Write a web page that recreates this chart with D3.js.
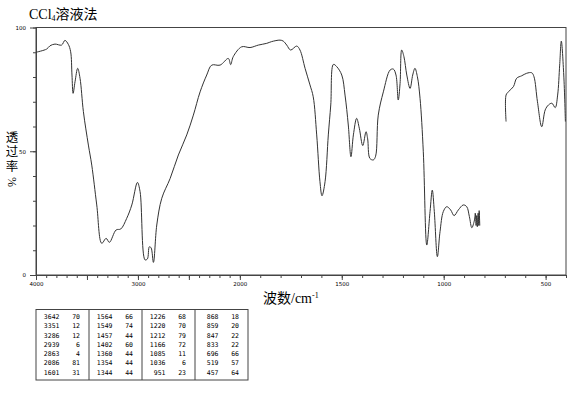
<!DOCTYPE html>
<html>
<head>
<meta charset="utf-8">
<script src="https://cdn.jsdelivr.net/npm/d3@7/dist/d3.min.js"></script>
<style>
	body { margin:0; background:#fff; }
	svg { display:block; }
</style>
</head>
<body>
<svg id="chart" width="570" height="394"></svg>
<script>
	// spectrum trace, [wavenumber, transmittance %]
	var traceHigh = [
		[4000,90],[3895,91.3],[3863,92.6],[3814,93.3],[3749,92.9],[3716,94.8],[3683,93.2],[3660,90.2],
		[3647,80.8],[3636,73.4],[3617,78.1],[3591,83.5],[3568,79.5],[3535,66],[3486,52.5],[3453,44.4],
		[3404,28.3],[3355,12.8],[3312,14.8],[3280,13.2],[3214,18.2],[3168,18.6],[3110,22.9],[3060,28.3],
		[3005,37.4],[2979,33.7],[2930,6.1],[2907,6.5],[2888,11.4],[2871,11],[2848,5.1],[2815,20.2],
		[2766,31],[2684,39],[2603,48.5],[2521,56.6],[2456,64.6],[2390,74],[2325,80.8],[2276,84.8],
		[2194,84.8],[2113,87.5],[2090,85],[2065,88.2],[1991,92.2],[1950,91.9],[1909,92.9],[1868,93.6],
		[1844,94.3],[1803,94.9],[1787,94.5],[1770,92.9],[1751,90.9],[1721,92.5],[1705,90.9],[1680,83.5],
		[1656,76.8],[1640,72],[1623,56.6],[1607,37.7],[1597,32],[1582,37.7],[1566,56.6],[1554,68.7],
		[1541,85.1],[1525,84.2],[1500,80.8],[1484,72.7],[1468,60.6],[1455,47.8],[1443,56.6],[1427,63.3],
		[1414,59.3],[1397,52.3],[1381,57.9],[1373,55],[1362,47.1],[1345,46.5],[1334,48],[1321,64.6],
		[1296,74],[1263,82.8],[1247,83.2],[1234,80.8],[1223,70.7],[1214,77.4],[1206,90.9],[1195,88.2],
		[1181,80.8],[1165,75.4],[1152,80.8],[1141,83.5],[1129,80.1],[1116,71.4],[1100,49.8],[1083,12.1],
		[1067,25.6],[1056,34.3],[1046,25.6],[1031,7.4],[1018,17.5],[1002,25.6],[985,27.6],[966,26.3],
		[949,24],[928,26.3],[904,28.3],[887,27.6],[874,23.6],[862,19.1],[849,22.2],[845,25],[841,20],
		[838,24],[835,19.5],[831,25],[828,20],[826,26],[823,20]
	];
	var traceLow = [
		[694,62],[694,72.7],[683,74],[658,76.1],[642,79.5],[617,80.5],[593,81.5],[568,81.7],[557,80.1],
		[540,70],[519,59.9],[502,66.7],[486,68.7],[469,69.4],[453,67.6],[441,72.7],[431,84.8],[423,94.5],
		[411,80.8],[403,62]
	];

	// peak table
	var peakWn = [3642,3351,3286,2939,2863,2086,1601, 1564,1549,1457,1402,1360,1354,1344,
		1226,1220,1212,1166,1085,1036,951, 868,859,847,833,696,519,457];
	var peakT = [70,12,12,6,4,81,31, 66,74,44,60,44,44,44, 68,70,79,72,11,6,23, 18,20,22,22,66,57,64];

	var xLabels = [4000,3000,2000,1500,1000,500];
	var yLabels = [0,50,100];

	var pLeft = 36, pRight = 566, pTop = 27.5, pBottom = 275;
	var svg = d3.select("#chart");

	// 4000-2000 at half scale, like the instrument chart
	var x = d3.scaleLinear().domain([4000,2000,400])
		.range([pLeft, pLeft+(pRight-pLeft)*1000/2600, pRight]);
	var y = d3.scaleLinear().domain([0,100]).range([pBottom, pTop]);

	var ink = "#444";

	// frame
	svg.append("rect").attr("x",pLeft).attr("y",pTop)
		.attr("width",pRight-pLeft).attr("height",pBottom-pTop)
		.attr("fill","none").attr("stroke",ink).attr("stroke-width",1);

	// y axis
	svg.append("g").attr("transform","translate("+pLeft+",0)")
		.call(d3.axisLeft(y).tickValues(d3.range(0,101,10)).tickSize(3).tickSizeOuter(0).tickFormat(""));
	svg.append("g").attr("transform","translate("+pLeft+",0)")
		.call(d3.axisLeft(y).tickValues(yLabels).tickSize(6).tickSizeOuter(0).tickPadding(4));

	// x axis
	svg.append("g").attr("transform","translate(0,"+pBottom+")")
		.call(d3.axisBottom(x).tickValues(d3.range(400,4001,100)).tickSize(3).tickSizeOuter(0).tickFormat(""));
	svg.append("g").attr("transform","translate(0,"+pBottom+")")
		.call(d3.axisBottom(x).tickValues(d3.range(500,4001,500)).tickSize(5).tickSizeOuter(0).tickPadding(2)
			.tickFormat(function(d){ return xLabels.indexOf(d)>=0 ? d : ""; }));

	svg.selectAll(".domain").attr("stroke",ink);
	svg.selectAll(".tick line").attr("stroke",ink);
	svg.selectAll(".tick text").attr("fill","#000")
		.style("font-family","DejaVu Sans").style("font-size","5.5px");

	// spectrum
	var line = d3.line()
		.x(function(d){ return x(d[0]); })
		.y(function(d){ return y(d[1]); })
		.curve(d3.curveCatmullRom.alpha(0.5));
	[traceHigh, traceLow].forEach(function(seg) {
		svg.append("path").datum(seg).attr("d",line)
			.attr("fill","none").attr("stroke","#333").attr("stroke-width",1);
	});

	// title
	var title = svg.append("text").attr("x",29).attr("y",19)
		.style("font-family","'Liberation Serif','Noto Sans CJK SC'").style("font-size","14px").attr("fill","#000");
	title.append("tspan").text("CCl");
	title.append("tspan").attr("dy",2).style("font-size","8px").text("4");
	title.append("tspan").attr("dy",-2).text("溶液法");

	// y label, stacked characters in one text
	var ylab = svg.append("text").attr("text-anchor","middle")
		.style("font-family","'Noto Sans CJK SC'").style("font-size","12.5px");
	["透","过","率"].forEach(function(c,i) {
		ylab.append("tspan").attr("x",12).attr("y",141.5+i*14.5).text(c);
	});
	svg.append("text").attr("transform","translate(12,182) rotate(90)")
		.attr("text-anchor","middle").attr("dominant-baseline","central")
		.style("font-family","'Liberation Serif'").style("font-size","12px").text("%");

	// x label
	var xl = svg.append("text").attr("x",263).attr("y",303)
		.style("font-family","'Liberation Serif','Noto Sans CJK SC'").style("font-size","14px");
	xl.append("tspan").text("波数/cm");
	xl.append("tspan").attr("dy",-5).style("font-size","8px").text("-1");

	// peak table
	var tLeft = 36, tTop = 309.5, tBottom = 380, colW = 53, rows = 7;
	svg.append("rect").attr("x",tLeft).attr("y",tTop).attr("width",colW*4).attr("height",tBottom-tTop)
		.attr("fill","none").attr("stroke",ink).attr("stroke-width",1);
	for (var c=1; c<4; c++) {
		svg.append("line").attr("x1",tLeft+c*colW).attr("x2",tLeft+c*colW)
			.attr("y1",tTop).attr("y2",tBottom).attr("stroke",ink).attr("stroke-width",1);
	}
	var cells = svg.append("g").style("font-family","'DejaVu Sans Mono'").style("font-size","6.5px");
	peakWn.forEach(function(w,i) {
		var col = Math.floor(i/rows), row = i%rows;
		var bx = tLeft + col*colW, by = 319 + row*9.27;
		cells.append("text").attr("x",bx+23.5).attr("y",by).attr("text-anchor","end").text(w);
		cells.append("text").attr("x",bx+44).attr("y",by).attr("text-anchor","end").text(peakT[i]);
	});
</script>
</body>
</html>
